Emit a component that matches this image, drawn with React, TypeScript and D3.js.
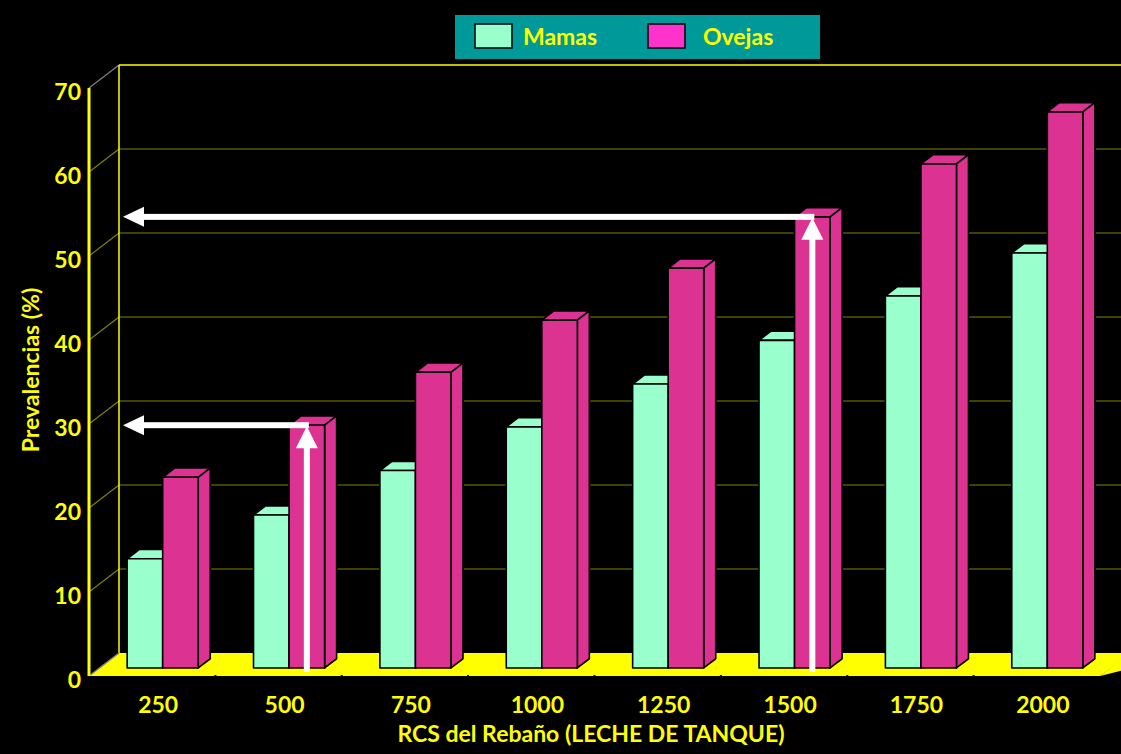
import React from 'react';
import * as d3 from 'd3';

const categories = ['250', '500', '750', '1000', '1250', '1500', '1750', '2000'];
const seriesNames = ['Mamas', 'Ovejas'];
const mamas = [13.0, 18.2, 23.5, 28.7, 33.8, 39.0, 44.3, 49.4];
const ovejas = [22.7, 28.9, 35.2, 41.4, 47.6, 53.7, 60.0, 66.2];
const yTicks = [0, 10, 20, 30, 40, 50, 60, 70];
const arrows = [
  { cat: '500', value: 28.9 },
  { cat: '1500', value: 53.7 },
];

const W = 1121;
const H = 754;
const FONT = 'Lato, "Open Sans", sans-serif';
const FS = 23;
const YELLOW = '#ffff00';
const OLIVE = '#808000';
const barColors = ['#99ffcc', '#dc3393'];
const legendColors = ['#99ffcc', '#ff33cc'];

// depth vector of the 3D box (front plane -> back wall)
const DX = 30;
const DY = -23;
const BAR_FRONT = 0.35;
const BAR_BACK = 0.75;

const App: React.FC = () => {
  const x = d3.scaleBand<string>().domain(categories).range([89, 1100]);
  const y = d3.scaleLinear().domain([0, 70]).range([676, 88]);
  const pairW = x.bandwidth() * 0.5625;
  const inner = d3.scaleBand<string>().domain(seriesNames).range([0, pairW]);
  const values = [mamas, ovejas];

  const pt = (px: number, v: number, d: number) => [px + d * DX, y(v) + d * DY];
  const poly = (pts: number[][]) => pts.map(p => p.join(',')).join(' ');

  const x0 = x.range()[0];
  const x1 = x.range()[1];

  const bars: JSX.Element[] = [];
  categories.forEach((c, i) => {
    const left = (x(c) as number) + (x.bandwidth() - pairW) / 2;
    seriesNames.forEach((s, j) => {
      const v = values[j][i];
      const bx0 = left + (inner(s) as number);
      const bx1 = bx0 + inner.bandwidth();
      const fBL = pt(bx0, 0, BAR_FRONT);
      const fBR = pt(bx1, 0, BAR_FRONT);
      const fTL = pt(bx0, v, BAR_FRONT);
      const fTR = pt(bx1, v, BAR_FRONT);
      const bTL = pt(bx0, v, BAR_BACK);
      const bTR = pt(bx1, v, BAR_BACK);
      const bBR = pt(bx1, 0, BAR_BACK);
      bars.push(
        <g key={c + s} stroke="#000" strokeWidth={1.6} strokeLinejoin="round" fill={barColors[j]}>
          <polygon points={poly([fTL, fTR, bTR, bTL])} />
          <polygon points={poly([fBR, fTR, bTR, bBR])} />
          <polygon points={poly([fBL, fBR, fTR, fTL])} />
        </g>
      );
    });
  });

  const arrowEls = arrows.map(a => {
    const left = (x(a.cat) as number) + (x.bandwidth() - pairW) / 2;
    const bx = left + (inner('Ovejas') as number) + inner.bandwidth() / 2;
    const [ax, ay] = pt(bx, a.value, BAR_FRONT);
    const [, by] = pt(bx, 0, 0);
    const tipX = 123;
    return (
      <g key={a.cat} fill="#fff" stroke="none">
        <rect x={ax - 3} y={ay + 20} width={6} height={by - 4 - (ay + 20)} />
        <polygon points={poly([[ax, ay + 1], [ax - 11, ay + 23], [ax + 11, ay + 23]])} />
        <rect x={tipX + 18} y={ay - 3} width={ax + 2 - (tipX + 18)} height={6} />
        <polygon points={poly([[tipX, ay], [tipX + 21, ay - 10], [tipX + 21, ay + 10]])} />
      </g>
    );
  });

  return (
    <svg
      width={W}
      height={H}
      style={{ position: 'absolute', left: 0, top: 0, background: '#000' }}
      fontFamily={FONT}
    >
      <rect width={W} height={H} fill="#000" />

      {/* back wall gridlines */}
      {yTicks.filter(t => t > 0).map(t => {
        const [lx, ly] = pt(x0, t, 1);
        return (
          <line key={'g' + t} x1={lx} y1={ly} x2={W} y2={ly}
            stroke={t === 70 ? YELLOW : OLIVE} strokeWidth={t === 70 ? 1.5 : 1} />
        );
      })}
      {/* left wall gridlines */}
      {yTicks.filter(t => t > 0).map(t => {
        const [fx, fy] = pt(x0, t, 0);
        const [bx, by] = pt(x0, t, 1);
        return (
          <line key={'l' + t} x1={fx} y1={fy} x2={bx} y2={by}
            stroke={t === 70 ? '#808080' : OLIVE} strokeWidth={1.2} />
        );
      })}
      {/* back wall left edge */}
      <line x1={pt(x0, 0, 1)[0]} y1={pt(x0, 0, 1)[1]} x2={pt(x0, 70, 1)[0]} y2={pt(x0, 70, 1)[1]}
        stroke={YELLOW} strokeWidth={1.5} />

      {/* floor */}
      <polygon points={poly([pt(x0, 0, 0), pt(x1, 0, 0), pt(x1, 0, 1), pt(x0, 0, 1)])} fill={YELLOW} />
      <polygon points={poly([pt(x1, 0, 0), pt(x1 + 60, 0, 1), pt(x1 - 1, 0, 1)])} fill={YELLOW} />
      <line x1={pt(x0, 0, 0)[0]} y1={pt(x0, 0, 0)[1]} x2={pt(x0, 0, 1)[0]} y2={pt(x0, 0, 1)[1]}
        stroke="#808080" strokeWidth={1.5} />
      {categories.slice(1).map(c => (
        <line key={'t' + c} x1={x(c)} y1={y(0) - 1} x2={x(c)} y2={y(0) + 2} stroke="#000" strokeWidth={2} />
      ))}

      {/* front value axis */}
      <line x1={x0} y1={y(0)} x2={x0} y2={y(70)} stroke={YELLOW} strokeWidth={3} />

      {bars}
      {arrowEls}

      {/* y tick labels */}
      {yTicks.map(t => (
        <text key={'yt' + t} x={81} y={y(t) + 3} textAnchor="end" dominantBaseline="central"
          fill={YELLOW} fontWeight="bold" fontSize={FS}>{t}</text>
      ))}
      {/* x tick labels */}
      {categories.map(c => (
        <text key={'xt' + c} x={(x(c) as number) + x.bandwidth() / 2 + 6} y={713}
          textAnchor="middle" fill={YELLOW} fontWeight="bold" fontSize={FS}>{c}</text>
      ))}

      <text x={591} y={742} textAnchor="middle" fill={YELLOW} fontWeight="bold" fontSize={FS}>
        RCS del Rebaño (LECHE DE TANQUE)
      </text>
      <text transform="translate(39,370) rotate(-90)" textAnchor="middle" fill={YELLOW}
        fontWeight="bold" fontSize={FS}>
        Prevalencias (%)
      </text>

      {/* legend */}
      <g>
        <rect x={455} y={15} width={365} height={44} fill="#009999" />
        {seriesNames.map((s, j) => (
          <g key={'lg' + s} transform={`translate(${j === 0 ? 475 : 648},24)`}>
            <rect width={37} height={24} fill={legendColors[j]} stroke="#000" strokeWidth={1.5} />
            <text x={j === 0 ? 48 : 55} y={21} fill={YELLOW} fontWeight="bold" fontSize={FS}>{s}</text>
          </g>
        ))}
      </g>
    </svg>
  );
};

export default App;
